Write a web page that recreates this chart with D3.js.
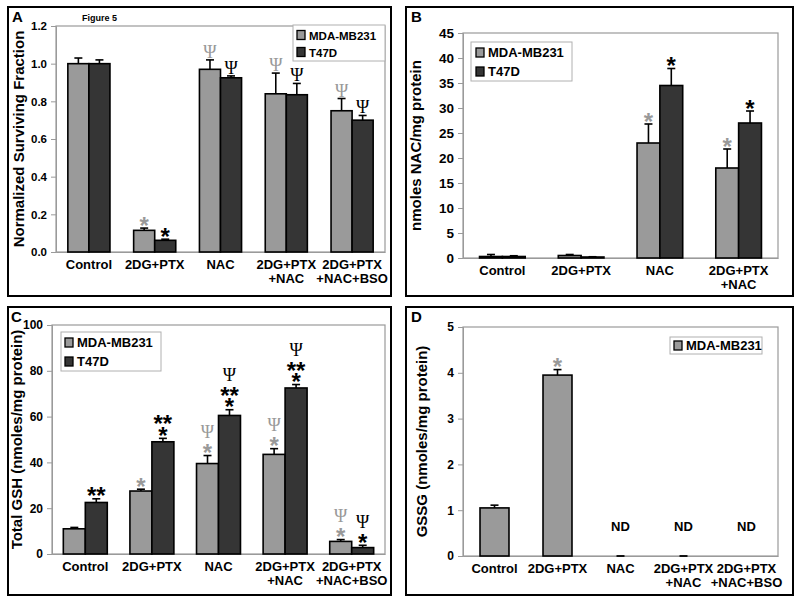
<!DOCTYPE html>
<html><head><meta charset="utf-8">
<script src="https://cdn.jsdelivr.net/npm/d3@7"></script>
<style>body{margin:0;background:#fff;} svg{display:block;} text{font-family:Arial,"Liberation Sans",sans-serif;font-weight:bold;}</style>
</head><body><svg id="c" width="800" height="603"></svg>
<script>
// ---------- DATA ----------
const seriesNames = ["MDA-MB231","T47D"];
const cats5 = ["Control","2DG+PTX","NAC","2DG+PTX\n+NAC","2DG+PTX\n+NAC+BSO"];
const cats4 = ["Control","2DG+PTX","NAC","2DG+PTX\n+NAC"];

// Panel A
const ticksA = [0,0.2,0.4,0.6,0.8,1.0,1.2];
const mdaA = [1.00,0.115,0.97,0.84,0.75];
const mdaErrA = [0.03,0.012,0.05,0.11,0.065];
const t47dA = [1.00,0.062,0.925,0.835,0.70];
const t47dErrA = [0.02,0.006,0.01,0.06,0.025];
const mdaAnnA = [[],["*"],["Ψ"],["Ψ"],["Ψ"]];
const t47dAnnA = [[],["*"],["Ψ"],["Ψ"],["Ψ"]];

// Panel B
const ticksB = [0,5,10,15,20,25,30,35,40,45];
const mdaB = [0.3,0.5,23,18];
const mdaErrB = [0.4,0.2,3.8,3.8];
const t47dB = [0.3,0.2,34.5,27];
const t47dErrB = [0.15,0.05,3.4,2.4];
const mdaAnnB = [[],[],["*"],["*"]];
const t47dAnnB = [[],[],["*"],["*"]];

// Panel C
const ticksC = [0,20,40,60,80,100];
const mdaC = [11,27.5,39.5,43.5,5.5];
const mdaErrC = [0.6,0.8,3.5,2.5,0.8];
const t47dC = [22.5,49,60.5,72.5,2.8];
const t47dErrC = [1.6,1.5,2.5,1.5,1.0];
const mdaAnnC = [[],["*"],["*","Ψ"],["*","Ψ"],["*","Ψ"]];
const t47dAnnC = [["**"],["*","**"],["*","**","Ψ"],["*","**","Ψ"],["*","Ψ"]];

// Panel D
const ticksD = [0,1,2,3,4,5];
const mdaD = [1.05,3.95,0,0,null];
const mdaErrD = [0.06,0.12,0,0,null];
const mdaAnnD = [[],["*"],[],[],[]];
const ndD = ["","","ND","ND","ND"];

// ---------- DRAWING ----------
const svg = d3.select("#c");
const FILL = ["#9a9a9a","#353535"];
const ANN = ["#999999","#000000"];

function panel(o){
  const g = svg.append("g");
  g.append("rect").attr("x",o.box[0]).attr("y",o.box[1]).attr("width",o.box[2]-o.box[0]).attr("height",o.box[3]-o.box[1])
    .attr("fill","none").attr("stroke","#000").attr("stroke-width",2);
  g.append("text").attr("x",o.letter[0]).attr("y",o.letter[1]).attr("font-size",15).text(o.letterText);

  const [L,T,R,B] = o.plot;
  const y = d3.scaleLinear().domain([o.ticks[0],o.ticks[o.ticks.length-1]]).range([B,T]);
  const x = d3.scaleBand().domain(o.cats).range([L,R]).paddingInner(o.pad).paddingOuter(o.pad/2);
  const xs = d3.scaleBand().domain(d3.range(o.series.length)).range([0,x.bandwidth()]);

  g.append("rect").attr("x",L).attr("y",T).attr("width",R-L).attr("height",B-T)
    .attr("fill","none").attr("stroke","#9a9a9a").attr("stroke-width",1.2);

  const ya = g.append("g").attr("transform",`translate(${L},0)`)
    .call(d3.axisLeft(y).tickValues(o.ticks).tickFormat(o.fmt).tickSize(5).tickPadding(4));
  ya.select(".domain").attr("stroke","#9a9a9a");
  ya.selectAll(".tick line").attr("stroke","#9a9a9a");
  ya.selectAll("text").attr("font-size",o.tickFs).attr("fill","#000").style("font-family","Arial, 'Liberation Sans', sans-serif").style("font-weight","bold");

  const xa = g.append("g").attr("transform",`translate(0,${B})`)
    .call(d3.axisBottom(x).tickSize(0).tickFormat(""));
  xa.select(".domain").attr("stroke","#9a9a9a");
  o.cats.forEach(c=>{
    const t = g.append("text").attr("x",x(c)+x.bandwidth()/2).attr("y",B+17).attr("text-anchor","middle").attr("font-size",13);
    c.split("\n").forEach((ln,i)=>t.append("tspan").attr("x",x(c)+x.bandwidth()/2).attr("dy",i?13.5:0).text(ln));
  });

  g.append("text").attr("transform",`translate(${o.ytx},${(T+B)/2}) rotate(-90)`)
    .attr("text-anchor","middle").attr("font-size",15).text(o.ytitle);

  o.series.forEach((s,si)=>{
    s.vals.forEach((v,ci)=>{
      if(v===null) return;
      const c = o.cats[ci];
      const bx = x(c)+xs(si), bw = xs.bandwidth();
      const cx = bx+bw/2;
      if(v>0){
        g.append("rect").attr("x",bx).attr("y",y(v)).attr("width",bw).attr("height",y(0)-y(v))
          .attr("fill",FILL[si]).attr("stroke","#000").attr("stroke-width",1.6);
      } else {
        g.append("line").attr("x1",cx-4).attr("x2",cx+4).attr("y1",y(0)).attr("y2",y(0)).attr("stroke","#000").attr("stroke-width",1.8);
      }
      const e = s.errs[ci];
      if(e>0){
        g.append("line").attr("x1",cx).attr("x2",cx).attr("y1",y(v)).attr("y2",y(v+e)).attr("stroke","#000").attr("stroke-width",1.6);
        g.append("line").attr("x1",cx-4).attr("x2",cx+4).attr("y1",y(v+e)).attr("y2",y(v+e)).attr("stroke","#000").attr("stroke-width",1.6);
      }
      const anns = s.ann[ci];
      if(anns.length){
        const t = g.append("text").attr("text-anchor","middle").attr("fill",ANN[si]);
        let cy = y(v+(e||0)) - 8;
        anns.forEach((a,ai)=>{
          if(a==="Ψ"){
            if(ai>0) cy -= 4;
            t.append("tspan").attr("x",cx).attr("y",cy+6).attr("font-size",18)
              .style("font-family","'Liberation Serif','Times New Roman',serif").style("font-weight","normal").text(a);
            cy -= 15;
          } else {
            t.append("tspan").attr("x",cx).attr("y",cy+13.5).attr("font-size",24).text(a);
            cy -= 11.5;
          }
        });
      }
    });
  });

  const lg = o.legend;
  g.append("rect").attr("x",lg.box[0]).attr("y",lg.box[1]).attr("width",lg.box[2]-lg.box[0]).attr("height",lg.box[3]-lg.box[1])
    .attr("fill","#fff").attr("stroke","#b0b0b0").attr("stroke-width",1);
  o.series.forEach((s,si)=>{
    const ry = lg.rows[si];
    g.append("rect").attr("x",lg.sx).attr("y",ry-4.5).attr("width",8).attr("height",9)
      .attr("fill",FILL[si]).attr("stroke","#000").attr("stroke-width",1.3);
    g.append("text").attr("x",lg.sx+12).attr("y",ry+4.5).attr("font-size",lg.fs).text(s.name);
  });
  return {g,x,y};
}

const pA = panel({box:[8,7,391,296],letter:[12,22],letterText:"A",plot:[56,26,385,252],
  ticks:ticksA,fmt:d3.format(".1f"),tickFs:11.5,cats:cats5,pad:0.36,ytx:24,ytitle:"Normalized Surviving Fraction",
  series:[{name:seriesNames[0],vals:mdaA,errs:mdaErrA,ann:mdaAnnA},{name:seriesNames[1],vals:t47dA,errs:t47dErrA,ann:t47dAnnA}],
  legend:{box:[293,25,385,61],sx:297,rows:[35,52],fs:11.5}});
pA.g.append("text").attr("x",82).attr("y",21).attr("font-size",9).text("Figure 5");

panel({box:[406,7,793,296],letter:[411,22],letterText:"B",plot:[463,33,778,258],
  ticks:ticksB,fmt:d3.format("d"),tickFs:13.5,cats:cats4,pad:0.42,ytx:421,ytitle:"nmoles NAC/mg protein",
  series:[{name:seriesNames[0],vals:mdaB,errs:mdaErrB,ann:mdaAnnB},{name:seriesNames[1],vals:t47dB,errs:t47dErrB,ann:t47dAnnB}],
  legend:{box:[471,42,572,81],sx:476,rows:[52.5,71.5],fs:13}});

panel({box:[8,307,391,595],letter:[11,322],letterText:"C",plot:[52,325,385,554],
  ticks:ticksC,fmt:d3.format("d"),tickFs:12,cats:cats5,pad:0.34,ytx:22,ytitle:"Total GSH (nmoles/mg protein)",
  series:[{name:seriesNames[0],vals:mdaC,errs:mdaErrC,ann:mdaAnnC},{name:seriesNames[1],vals:t47dC,errs:t47dErrC,ann:t47dAnnC}],
  legend:{box:[61,332,161,371],sx:65,rows:[342.5,361.5],fs:13}});

const pD = panel({box:[406,307,793,595],letter:[411,322],letterText:"D",plot:[463,327,778,556],
  ticks:ticksD,fmt:d3.format("d"),tickFs:12,cats:cats5,pad:0.54,ytx:427,ytitle:"GSSG (nmoles/mg protein)",
  series:[{name:seriesNames[0],vals:mdaD,errs:mdaErrD,ann:mdaAnnD}],
  legend:{box:[670,337,762,354],sx:674,rows:[345.5],fs:13}});
ndD.forEach((t,i)=>{
  if(!t) return;
  pD.g.append("text").attr("x",pD.x(cats5[i])+pD.x.bandwidth()/2).attr("y",pD.y(0.55)).attr("text-anchor","middle").attr("font-size",13).text(t);
});
</script></body></html>
